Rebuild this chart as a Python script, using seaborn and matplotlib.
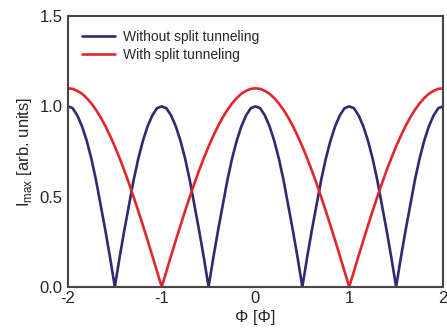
import matplotlib
matplotlib.use("Agg")
import matplotlib.pyplot as plt
import seaborn as sns
import pandas as pd

phi = [round(-2 + 0.05 * i, 2) for i in range(81)]

without_split = [
    1.00, 0.99, 0.95, 0.89, 0.81, 0.71, 0.59, 0.45, 0.31, 0.16,
    0.00, 0.16, 0.31, 0.45, 0.59, 0.71, 0.81, 0.89, 0.95, 0.99,
    1.00, 0.99, 0.95, 0.89, 0.81, 0.71, 0.59, 0.45, 0.31, 0.16,
    0.00, 0.16, 0.31, 0.45, 0.59, 0.71, 0.81, 0.89, 0.95, 0.99,
    1.00, 0.99, 0.95, 0.89, 0.81, 0.71, 0.59, 0.45, 0.31, 0.16,
    0.00, 0.16, 0.31, 0.45, 0.59, 0.71, 0.81, 0.89, 0.95, 0.99,
    1.00, 0.99, 0.95, 0.89, 0.81, 0.71, 0.59, 0.45, 0.31, 0.16,
    0.00, 0.16, 0.31, 0.45, 0.59, 0.71, 0.81, 0.89, 0.95, 0.99,
    1.00,
]

with_split = [
    1.10, 1.097, 1.086, 1.07, 1.046, 1.016, 0.98, 0.938, 0.89, 0.836,
    0.778, 0.714, 0.647, 0.575, 0.499, 0.421, 0.34, 0.257, 0.172, 0.086,
    0.00, 0.086, 0.172, 0.257, 0.34, 0.421, 0.499, 0.575, 0.647, 0.714,
    0.778, 0.836, 0.89, 0.938, 0.98, 1.016, 1.046, 1.07, 1.086, 1.097,
    1.10, 1.097, 1.086, 1.07, 1.046, 1.016, 0.98, 0.938, 0.89, 0.836,
    0.778, 0.714, 0.647, 0.575, 0.499, 0.421, 0.34, 0.257, 0.172, 0.086,
    0.00, 0.086, 0.172, 0.257, 0.34, 0.421, 0.499, 0.575, 0.647, 0.714,
    0.778, 0.836, 0.89, 0.938, 0.98, 1.016, 1.046, 1.07, 1.086, 1.097,
    1.10,
]

series_names = ["Without split tunneling", "With split tunneling"]
x_ticks = [-2, -1, 0, 1, 2]
y_ticks = [0.0, 0.5, 1.0, 1.5]

df = pd.DataFrame({
    "phi": phi * 2,
    "I": without_split + with_split,
    "series": [series_names[0]] * len(phi) + [series_names[1]] * len(phi),
})

sns.set_style("white")
plt.rcParams["font.family"] = ["Liberation Sans", "DejaVu Sans"]
plt.rcParams["mathtext.fontset"] = "custom"
plt.rcParams["mathtext.rm"] = "Liberation Sans"

fig = plt.figure(figsize=(4.47, 3.29), dpi=100)
ax = fig.add_axes([0.152, 0.128, 0.839, 0.823])

sns.lineplot(data=df, x="phi", y="I", hue="series", hue_order=series_names,
             palette=["#2e2b70", "#e0282c"], linewidth=1.9, ax=ax, sort=False)

ax.set_xlim(-2, 2)
ax.set_ylim(0, 1.5)
ax.set_xticks(x_ticks)
ax.set_xticklabels([str(t) for t in x_ticks])
ax.set_yticks(y_ticks)
ax.set_yticklabels([f"{t:.1f}" for t in y_ticks])
ax.tick_params(direction="in", length=3, width=1.2, color="#4a4444",
               labelsize=12)
ax.tick_params(axis="y", pad=4)
ax.tick_params(axis="x", pad=3)
for sp in ax.spines.values():
    sp.set_color("#4a4444")
    sp.set_linewidth(1.5)

ax.set_xlabel("Φ [Φ]", fontsize=12, labelpad=3)
ax.set_ylabel(r"I$_{\mathrm{max}}$ [arb. units]", fontsize=12, labelpad=4)

leg = ax.legend(loc="upper left", frameon=False, fontsize=10,
                handlelength=2.4, handletextpad=0.6, labelspacing=0.3,
                borderaxespad=0.6)

fig.savefig("out.png", dpi=100)
